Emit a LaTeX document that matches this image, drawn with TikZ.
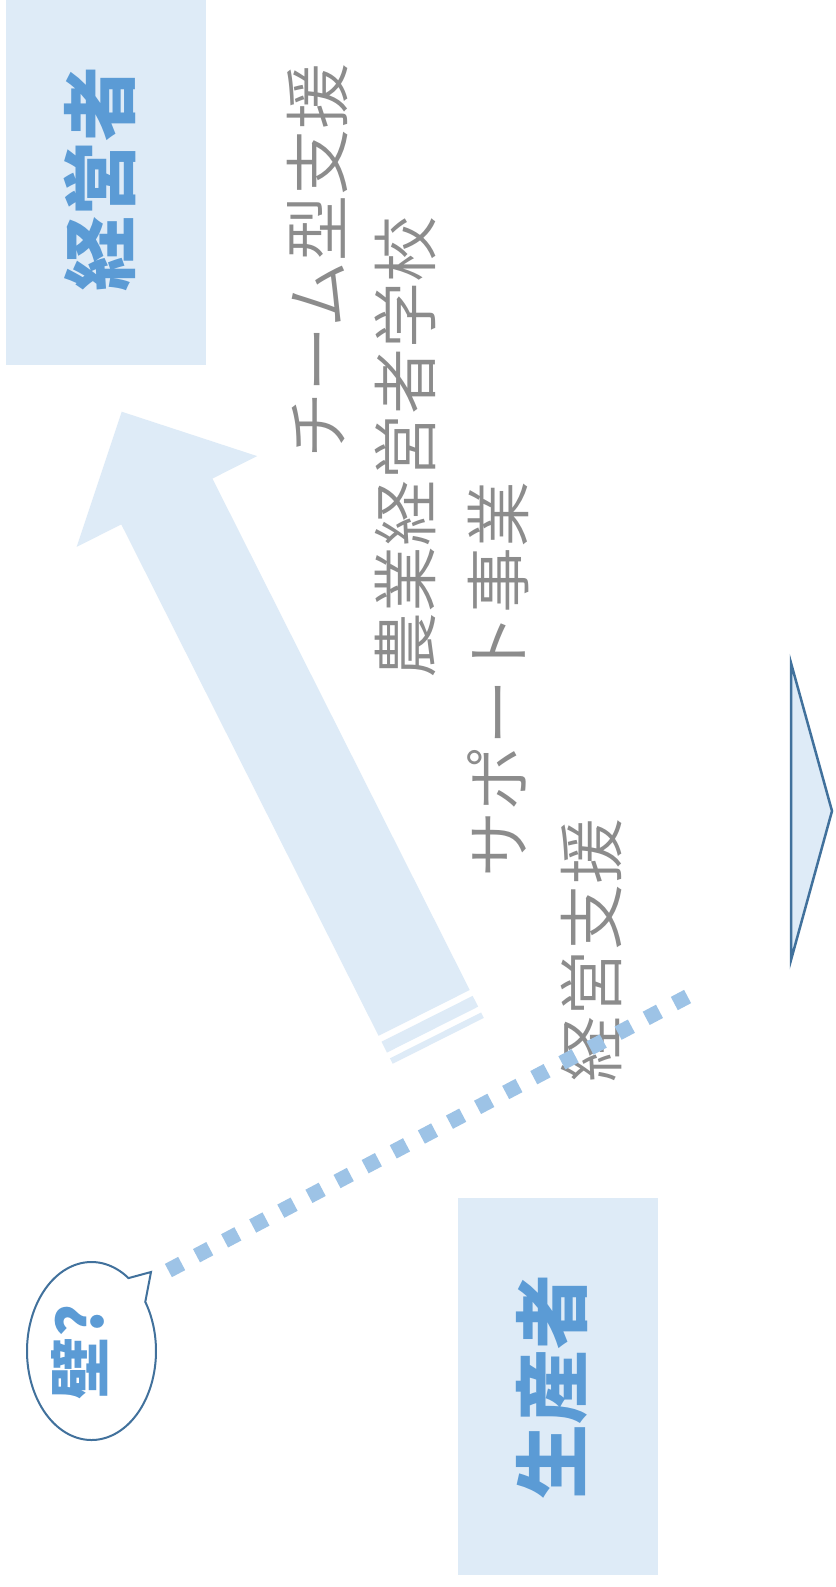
\documentclass[tikz,border=0pt]{standalone}
\usepackage{fontspec}
\newfontfamily\jp{Noto Sans CJK JP}
\newfontfamily\jplight{Noto Sans CJK JP}[UprightFont={* DemiLight}]
\definecolor{lightfill}{HTML}{DEEBF7}
\definecolor{bluetext}{HTML}{5B9BD5}
\definecolor{dotblue}{HTML}{9DC3E6}
\definecolor{outlineblue}{HTML}{41719C}
\definecolor{graytext}{HTML}{8C8C8C}
\begin{document}
\begin{tikzpicture}[x=1pt,y=-1pt,
  box/.style={fill=lightfill, draw=none, inner sep=0pt, anchor=north west},
  bigtext/.style={font=\jp\bfseries\fontsize{75}{80}\selectfont, text=bluetext, rotate=90, inner sep=0pt},
  bubbletext/.style={font=\jp\bfseries\fontsize{62}{70}\selectfont, text=bluetext, rotate=90, inner sep=0pt},
  graylabel/.style={font=\jplight\fontsize{66}{70}\selectfont, text=graytext, rotate=90, inner sep=0pt},
  bubble/.style={draw=outlineblue, line width=2pt, fill=white},
  tri/.style={draw=outlineblue, line width=2.5pt, fill=lightfill, line join=miter},
  dots/.style={draw=dotblue, line width=15pt, dash pattern=on 15pt off 16.78pt}
]
\useasboundingbox[fill=white] (0,0) rectangle (835,1587);

% boxes
\node[box, minimum width=200pt, minimum height=365pt] (mgrbox) at (6,0) {};
\node[box, minimum width=200pt, minimum height=377pt] (prodbox) at (458,1198) {};
\node[bigtext] (mgr) at (99.5,178.5) {経営者};
\node[bigtext] (prod) at (551.5,1387) {生産者};

% big striped arrow
\begin{scope}[shift={(121.7,411.7)}, x={(0.4494pt,-0.8933pt)}, y={(0.8933pt,0.4494pt)}]
  \fill[lightfill] (0,0) -- (100.5,101) -- (100.5,51) -- (673,51) -- (673,-51)
     -- (100.5,-51) -- (100.5,-101) -- cycle;
  \fill[lightfill] (679.6,51) -- (691.7,51) -- (691.7,-51) -- (679.6,-51) -- cycle;
  \fill[lightfill] (698.2,51) -- (704.3,51) -- (704.3,-51) -- (698.2,-51) -- cycle;
\end{scope}

% gray labels
\node[graylabel] (team) at (317.5,261) {チーム型支援};
\node[graylabel] (school) at (405,447) {農業経営者学校};
\node[graylabel] (support) at (498,679) {サポート事業};
\node[graylabel] (mgmt) at (591,950.5) {経営支援};

% triangle
\draw[tri] (791,663) -- (832,811) -- (791,960) -- cycle;

% callout bubble
\draw[bubble] plot[domain=55:393.5, samples=160] ({91.5+64.5*cos(\x)},{1351-89*sin(\x)}) -- (151,1272) -- cycle;
\node[bubbletext] (wall) at (80,1352) {壁?};

% dotted line
\coordinate (dotA) at (168.4,1270.5);
\coordinate (dotB) at (687.6,996.5);
\draw[dots] (dotA) -- (dotB);
\end{tikzpicture}
\end{document}
